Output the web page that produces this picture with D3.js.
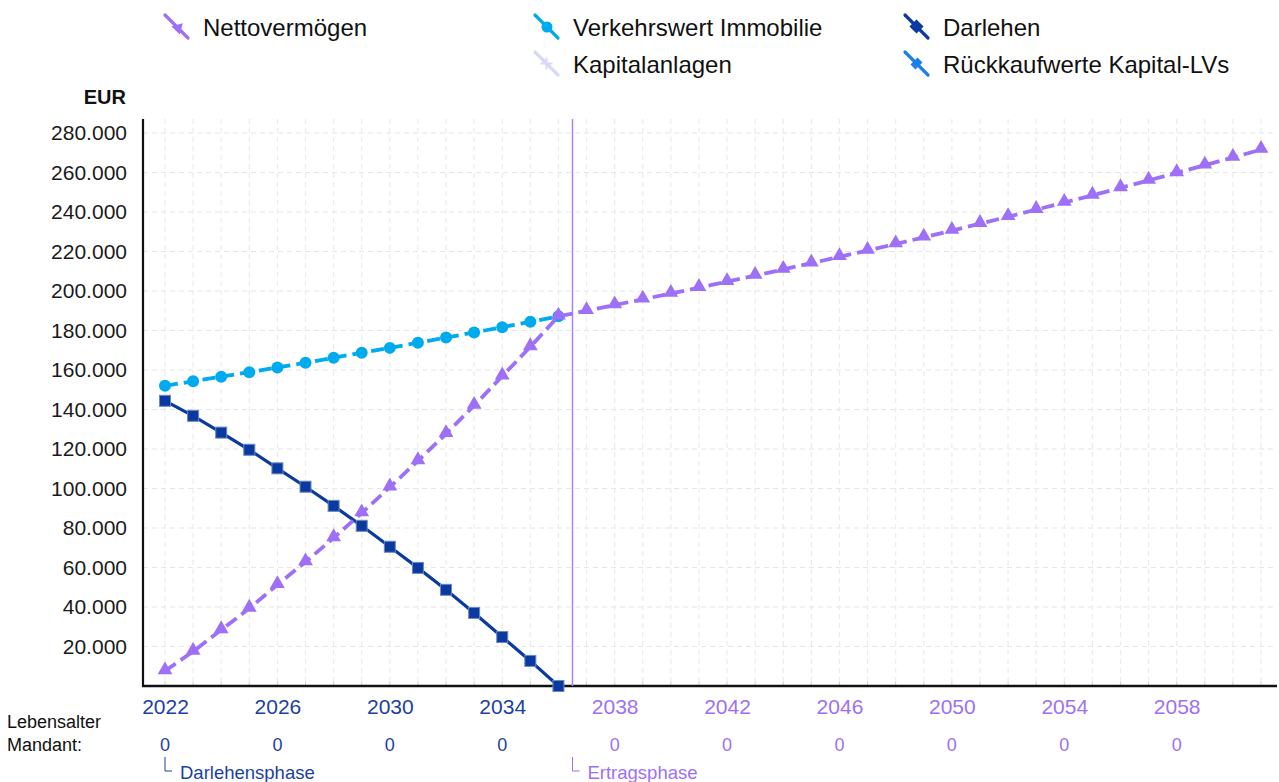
<!DOCTYPE html>
<html><head><meta charset="utf-8">
<script src="https://cdn.jsdelivr.net/npm/d3@7"></script>
<style>
html,body{margin:0;padding:0;background:#fff;}
svg{display:block;font-family:"Liberation Sans",Arial,sans-serif;}
</style></head>
<body>
<svg id="chart" width="1279" height="782"></svg>
<script>
// ---- data ----
const years = d3.range(2022, 2062);
const nettoYears = years;
const nettoValues = [7600, 17500, 28400, 39300, 51300, 62800, 75000, 87600, 100700, 114000, 127700, 142000, 156900, 171700, 187200,
  190000, 192900, 195800, 198700, 201700, 204700, 207800, 210900, 214100, 217300, 220500, 223800, 227200, 230600, 234100,
  237600, 241200, 244800, 248400, 252200, 256000, 259800, 263700, 267600, 271600];
const immoYears = d3.range(2022, 2037);
const immoValues = [152000, 154300, 156600, 158900, 161300, 163700, 166200, 168700, 171200, 173800, 176400, 179000, 181700, 184400, 187200];
const darlehenYears = d3.range(2022, 2037);
const darlehenValues = [144400, 136800, 128300, 119600, 110200, 100900, 91200, 81100, 70500, 59800, 48700, 37000, 24800, 12700, 0];
const yTicks = [20000, 40000, 60000, 80000, 100000, 120000, 140000, 160000, 180000, 200000, 220000, 240000, 260000, 280000];
const xTickYears = [2022, 2026, 2030, 2034, 2038, 2042, 2046, 2050, 2054, 2058];
const ageLabels = ["0", "0", "0", "0", "0", "0", "0", "0", "0", "0"];
const phaseBoundary = 2036.5;
const phases = [{name: "Darlehensphase", start: 2022}, {name: "Ertragsphase", start: 2036.5}];
const legendItems = [
  {name: "Nettovermögen", color: "#9d70f7", marker: "triangle", col: 0, row: 0},
  {name: "Verkehrswert Immobilie", color: "#00aaee", marker: "circle", col: 1, row: 0},
  {name: "Darlehen", color: "#0a3a9f", marker: "square", col: 2, row: 0},
  {name: "Kapitalanlagen", color: "#d8d8f8", marker: "cross", col: 1, row: 1},
  {name: "Rückkaufwerte Kapital-LVs", color: "#1a7fe8", marker: "diamond", col: 2, row: 1}
];

// ---- layout ----
const svg = d3.select("#chart");
const L = 143, R = 1277, T = 119, B = 686;
const x = d3.scaleLinear().domain([2022, 2061]).range([165, 1261]);
const y = d3.scaleLinear().domain([0, 280000]).range([B, 133]);
const blue = "#1b3fa5", purple = "#9d70f7";
const fmt = d3.formatLocale({decimal: ",", thousands: ".", grouping: [3], currency: ["", "€"]}).format(",.0f");

// grid
const grid = svg.append("g");
grid.selectAll("line.h").data(yTicks).join("line")
  .attr("x1", L).attr("x2", R).attr("y1", d => y(d)).attr("y2", d => y(d))
  .attr("stroke", "#e6e6e6").attr("stroke-width", 1.2).attr("stroke-dasharray", "5,4");
grid.selectAll("line.v").data(years).join("line")
  .attr("y1", T).attr("y2", B).attr("x1", d => x(d)).attr("x2", d => x(d))
  .attr("stroke", "#ebebeb").attr("stroke-width", 1.2).attr("stroke-dasharray", "5,4");

// y axis labels
const yAxis = svg.append("g").attr("transform", `translate(${L},0)`)
  .call(d3.axisLeft(y).tickValues(yTicks).tickFormat(fmt).tickSize(0).tickPadding(16));
yAxis.select(".domain").remove();
yAxis.selectAll("text").attr("font-size", 21).attr("fill", "#1a1a1a").attr("font-family", "Liberation Sans, Arial, sans-serif");

svg.append("text").attr("x", 126).attr("y", 104).attr("text-anchor", "end")
  .attr("font-size", 20).attr("font-weight", "bold").attr("fill", "#111").text("EUR");

// x axis labels
const xAxis = svg.append("g").attr("transform", `translate(0,${B})`)
  .call(d3.axisBottom(x).tickValues(xTickYears).tickFormat(d => String(d)).tickSize(0).tickPadding(13));
xAxis.select(".domain").remove();
xAxis.selectAll("text").attr("font-size", 21).attr("font-family", "Liberation Sans, Arial, sans-serif")
  .attr("fill", d => d < phaseBoundary ? blue : purple);

svg.append("g").selectAll("text").data(xTickYears).join("text")
  .attr("x", d => x(d)).attr("y", 751).attr("text-anchor", "middle").attr("font-size", 18)
  .attr("fill", d => d < phaseBoundary ? blue : purple).text((d, i) => ageLabels[i]);
svg.append("text").attr("x", 7).attr("y", 728).attr("font-size", 18).attr("fill", "#111").text("Lebensalter");
svg.append("text").attr("x", 7).attr("y", 751).attr("font-size", 18).attr("fill", "#111").text("Mandant:");

// phases
const ph = svg.append("g").selectAll("g").data(phases).join("g");
ph.append("path").attr("d", d => `M${x(d.start)},757V771H${x(d.start) + 7}`)
  .attr("fill", "none").attr("stroke", d => d.start < phaseBoundary ? blue : purple).attr("stroke-width", 1);
ph.append("text").attr("x", d => x(d.start) + 15).attr("y", 779).attr("font-size", 18.5)
  .attr("fill", d => d.start < phaseBoundary ? blue : purple).text(d => d.name);

// ticks on bottom axis
svg.append("g").selectAll("line").data(years).join("line")
  .attr("x1", d => x(d)).attr("x2", d => x(d)).attr("y1", B - 4).attr("y2", B)
  .attr("stroke", "#cfcfcf").attr("stroke-width", 1);

// axis lines
svg.append("line").attr("x1", L).attr("x2", L).attr("y1", T).attr("y2", B + 1).attr("stroke", "#111").attr("stroke-width", 2.2);
svg.append("line").attr("x1", L - 1).attr("x2", R).attr("y1", B).attr("y2", B).attr("stroke", "#111").attr("stroke-width", 2.6);

// phase boundary line
svg.append("line").attr("x1", x(phaseBoundary)).attr("x2", x(phaseBoundary)).attr("y1", T).attr("y2", B)
  .attr("stroke", "#a784f7").attr("stroke-width", 1.5);

// series
const line = d3.line().x(d => x(d[0])).y(d => y(d[1]));
const darl = darlehenYears.map((yr, i) => [yr, darlehenValues[i]]);
const immo = immoYears.map((yr, i) => [yr, immoValues[i]]);
const net = nettoYears.map((yr, i) => [yr, nettoValues[i]]);

svg.append("path").datum(darl).attr("d", line).attr("fill", "none").attr("stroke", "#0a3a9f").attr("stroke-width", 3.2);
svg.append("g").selectAll("rect").data(darl).join("rect")
  .attr("x", d => x(d[0]) - 5.5).attr("y", d => y(d[1]) - 5.5).attr("width", 11).attr("height", 11)
  .attr("fill", "#0a3a9f").attr("stroke", "#6c86c8").attr("stroke-width", 1);

svg.append("path").datum(immo).attr("d", line).attr("fill", "none").attr("stroke", "#00aaee")
  .attr("stroke-width", 3.8).attr("stroke-dasharray", "13,6");
svg.append("g").selectAll("circle").data(immo).join("circle")
  .attr("cx", d => x(d[0])).attr("cy", d => y(d[1])).attr("r", 6).attr("fill", "#00aaee");

svg.append("path").datum(net).attr("d", line).attr("fill", "none").attr("stroke", "#9d70f7")
  .attr("stroke-width", 3.8).attr("stroke-dasharray", "13,6");
const tri = d3.symbol().type(d3.symbolTriangle).size(95);
svg.append("g").selectAll("path").data(net).join("path")
  .attr("transform", d => `translate(${x(d[0])},${y(d[1]) - 1})`).attr("d", tri).attr("fill", "#9d70f7");

// legend
const colX = [165, 535, 905], rowY = [27, 64];
const lg = svg.append("g").selectAll("g").data(legendItems).join("g")
  .attr("transform", d => `translate(${colX[d.col]},${rowY[d.row]})`);
lg.append("line").attr("x1", 0).attr("y1", -12).attr("x2", 23).attr("y2", 11)
  .attr("stroke", d => d.color).attr("stroke-width", 3.2).attr("stroke-linecap", "round");
lg.each(function(d) {
  const g = d3.select(this);
  const t = `translate(${11.5},${-0.5}) rotate(45)`;
  if (d.marker === "triangle") g.append("path").attr("d", d3.symbol().type(d3.symbolTriangle).size(60)).attr("transform", `translate(13,1) rotate(45)`).attr("fill", d.color);
  else if (d.marker === "circle") g.append("circle").attr("cx", 12).attr("cy", 0).attr("r", 5.5).attr("fill", d.color);
  else if (d.marker === "square") g.append("rect").attr("x", -5).attr("y", -5).attr("width", 10).attr("height", 10).attr("transform", t).attr("fill", d.color);
  else if (d.marker === "cross") g.append("path").attr("d", "M-6,0H6M0,-6V6").attr("transform", `translate(11.5,-0.5)`).attr("stroke", d.color).attr("stroke-width", 2);
  else g.append("rect").attr("x", -3.5).attr("y", -5).attr("width", 7).attr("height", 10).attr("transform", t).attr("fill", d.color);
});
lg.append("text").attr("x", 38).attr("y", 8.5).attr("font-size", 24).attr("fill", "#111").text(d => d.name);
</script>
</body></html>
